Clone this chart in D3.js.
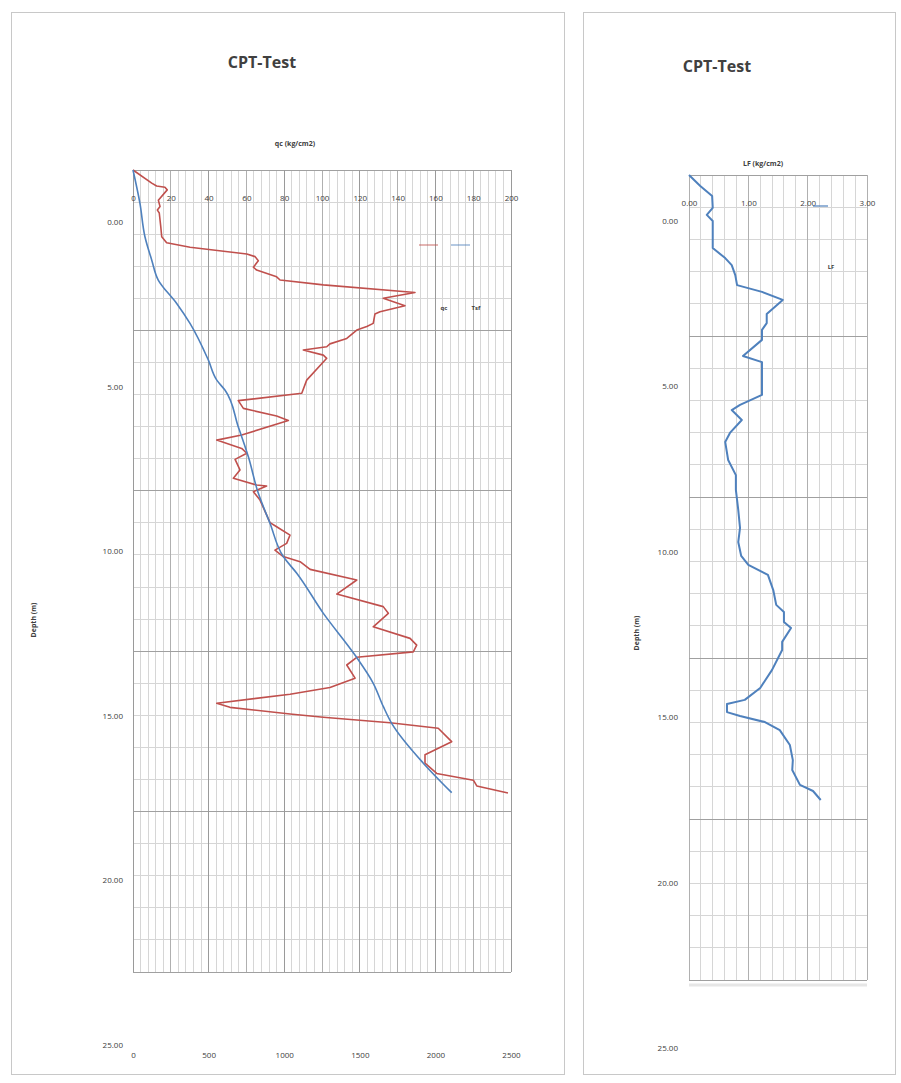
<!DOCTYPE html>
<html>
<head>
<meta charset="utf-8">
<script src="https://cdn.jsdelivr.net/npm/d3@7"></script>
<style>
    body { margin: 0; background: #fff; }
    svg text { font-family: "Open Sans", "Noto Sans", sans-serif; fill: #404040; }
</style>
</head>
<body>
<div id="chart"></div>
<script>
// qc (kg/cm2) against depth (m)
const qcDepth = [0, 0.41, 0.50, 0.54, 0.62, 0.94, 1.14, 1.25, 1.34, 1.77, 2.08, 2.27, 2.41, 2.62, 2.70, 2.83,
    3.03, 3.12, 3.33, 3.43, 3.58, 3.82, 4.00, 4.23, 4.42, 4.49, 4.78, 4.88, 4.99, 5.25, 5.42, 5.51, 5.61,
    5.77, 5.87, 6.55, 6.96, 7.19, 7.43, 7.67, 7.81, 8.26, 8.42, 8.68, 8.83, 9.02, 9.35, 9.61, 9.82, 9.85,
    10.03, 10.29, 10.99, 11.12, 11.38, 11.64, 11.85, 12.05, 12.21, 12.45, 12.78, 13.22, 13.61, 13.82, 14.24,
    14.60, 14.81, 15.02, 15.19, 15.43, 15.84, 16.13, 16.34, 16.62, 16.75, 16.96, 17.06, 17.23, 17.40, 17.82,
    18.23, 18.49, 18.81, 19.02, 19.20, 19.42];
const qcValues = [0, 9.9, 12.5, 16.9, 18.1, 13.4, 14.3, 12.9, 13.9, 14.7, 15.2, 17.8, 30.2, 60.2, 64.6, 66.3,
    63.7, 65.4, 76.0, 77.8, 100.7, 149.2, 132.4, 143.9, 130.7, 128.0, 127.1, 123.7, 118.4, 113.1, 104.2, 102.5, 90.1,
    100.7, 102.5, 91.9, 89.3, 55.7, 58.4, 76.0, 82.2, 57.5, 44.3, 57.5, 60.2, 54.0, 56.6, 53.1, 65.4, 70.7,
    63.7, 67.2, 72.5, 76.0, 83.1, 81.3, 75.1, 79.5, 88.4, 93.7, 118.4, 107.8, 132.4, 135.1, 127.1,
    146.6, 150.1, 148.3, 118.4, 113.1, 117.5, 104.2, 83.1, 44.3, 51.3, 83.1, 100.7, 136.0, 161.5, 168.6,
    154.5, 154.5, 160.7, 180.1, 181.9, 198.4];

// Tsf against depth (m), secondary scale
const tsfDepth = [0, 1.04, 2.08, 2.81, 3.43, 4.16, 4.78, 5.92, 6.55, 6.86, 8.00, 8.94, 10.08, 11.01, 12.05,
    12.57, 13.82, 15.12, 16.00, 16.73, 17.25, 18.49, 19.41];
const tsfValues = [0, 46, 79, 124, 167, 289, 377, 498, 554, 608, 696, 763, 829, 906, 994,
    1083, 1259, 1468, 1589, 1656, 1711, 1920, 2108];

// LF (kg/cm2) against depth (m)
const lfDepth = [0, 0.34, 0.65, 1.02, 1.24, 1.43, 2.27, 2.58, 2.80, 3.11, 3.42, 3.63, 3.88, 4.32, 4.60, 4.81,
    5.12, 5.62, 5.81, 6.83, 7.14, 7.30, 7.61, 8.01, 8.29, 8.85, 9.32, 9.78, 10.40, 10.96, 11.40, 11.83, 12.11,
    12.42, 12.89, 13.35, 13.57, 13.88, 14.07, 14.50, 14.75, 15.37, 15.93, 16.30, 16.43, 16.68, 16.80, 16.99,
    17.24, 17.70, 18.17, 18.48, 18.94, 19.13, 19.41];
const lfValues = [0, 0.19, 0.39, 0.40, 0.30, 0.40, 0.40, 0.61, 0.72, 0.78, 0.81, 1.23, 1.58, 1.31, 1.31, 1.23,
    1.23, 0.91, 1.23, 1.23, 0.86, 0.72, 0.89, 0.69, 0.61, 0.66, 0.79, 0.79, 0.83, 0.86, 0.83, 0.88, 1.00,
    1.33, 1.42, 1.47, 1.60, 1.60, 1.72, 1.57, 1.57, 1.40, 1.20, 0.94, 0.64, 0.64, 0.86, 1.28,
    1.53, 1.70, 1.75, 1.74, 1.87, 2.09, 2.22];

const qcTicks = [0, 20, 40, 60, 80, 100, 120, 140, 160, 180, 200];
const tsfTicks = [0, 500, 1000, 1500, 2000, 2500];
const lfTicks = [0, 1, 2, 3];
const depthTicks = [0, 5, 10, 15, 20, 25];

const svg = d3.select('#chart').append('svg')
    .attr('width', 901)
    .attr('height', 1083)
    .style('display', 'block');

svg.append('rect').attr('width', 901).attr('height', 1083).attr('fill', '#fff');

// draws vertical + horizontal gridlines for one plot area
function drawGrid(g, xs, y, vMinor, vMajor, hMinor, hMajor) {
    const [x0, x1] = xs.range();
    const [y0, y1] = y.range();
    g.selectAll(null).data(vMinor).enter().append('line')
        .attr('x1', d => xs(d)).attr('x2', d => xs(d)).attr('y1', y0).attr('y2', y1)
        .attr('stroke', '#d6d6d6').attr('stroke-width', 1).attr('shape-rendering', 'crispEdges');
    g.selectAll(null).data(hMinor).enter().append('line')
        .attr('x1', x0).attr('x2', x1).attr('y1', d => y(d)).attr('y2', d => y(d))
        .attr('stroke', '#d6d6d6').attr('stroke-width', 1).attr('shape-rendering', 'crispEdges');
    g.selectAll(null).data(vMajor).enter().append('line')
        .attr('x1', d => xs(d)).attr('x2', d => xs(d)).attr('y1', y0).attr('y2', y1)
        .attr('stroke', '#b0b0b0').attr('stroke-width', 1).attr('shape-rendering', 'crispEdges');
    g.selectAll(null).data(hMajor).enter().append('line')
        .attr('x1', x0).attr('x2', x1).attr('y1', d => y(d)).attr('y2', d => y(d))
        .attr('stroke', '#a0a0a0').attr('stroke-width', 1).attr('shape-rendering', 'crispEdges');
}

function styleAxis(g, size) {
    g.select('.domain').remove();
    g.selectAll('.tick line').remove();
    g.selectAll('text').style('font-size', size + 'px').attr('fill', '#404040');
}

// ---------------- left panel ----------------
svg.append('rect')
    .attr('x', 11.5).attr('y', 12.5).attr('width', 553).attr('height', 1062)
    .attr('fill', 'none').attr('stroke', '#c8c8c8');

const xQc = d3.scaleLinear().domain([0, 200]).range([133, 511]);
const xTsf = d3.scaleLinear().domain([0, 2500]).range([133, 511]);
const yDepth = d3.scaleLinear().domain([0, 25]).range([170, 972]);
const yDepthLabel = d3.scaleLinear().domain([0, 25]).range([222, 1045]);

const left = svg.append('g');
drawGrid(left, xQc, yDepth,
    d3.range(0, 201, 4), d3.range(0, 201, 20),
    d3.range(0, 26, 1), d3.range(0, 26, 5));
left.selectAll(null).data(tsfTicks).enter().append('line')
    .attr('x1', d => xTsf(d)).attr('x2', d => xTsf(d)).attr('y1', 170).attr('y2', 972)
    .attr('stroke', '#9a9a9a').attr('shape-rendering', 'crispEdges');

left.append('g')
    .attr('transform', 'translate(0,204)')
    .call(d3.axisTop(xQc).tickValues(qcTicks).tickSize(0))
    .call(g => styleAxis(g, 8));

left.append('g')
    .attr('transform', 'translate(0,1049)')
    .call(d3.axisBottom(xTsf).tickValues(tsfTicks).tickSize(0).tickFormat(d3.format('d')))
    .call(g => styleAxis(g, 8));

left.append('g')
    .attr('transform', 'translate(126,0)')
    .call(d3.axisLeft(yDepthLabel).tickValues(depthTicks).tickSize(0).tickFormat(d3.format('.2f')))
    .call(g => styleAxis(g, 8));

const qcLine = d3.line().x(d => xQc(d[1])).y(d => yDepth(d[0]));
left.append('path')
    .datum(d3.zip(qcDepth, qcValues))
    .attr('d', qcLine)
    .attr('fill', 'none').attr('stroke', '#c0504d').attr('stroke-width', 1.6)
    .attr('stroke-linejoin', 'round');

const tsfLine = d3.line().x(d => xTsf(d[1])).y(d => yDepth(d[0])).curve(d3.curveMonotoneY);
left.append('path')
    .datum(d3.zip(tsfDepth, tsfValues))
    .attr('d', tsfLine)
    .attr('fill', 'none').attr('stroke', '#4f81bd').attr('stroke-width', 1.6);

left.append('text')
    .attr('x', 262).attr('y', 68).attr('text-anchor', 'middle')
    .style('font-size', '16px').style('font-weight', 'bold').attr('fill', '#262626')
    .text('CPT-Test');
left.append('text')
    .attr('x', 295).attr('y', 146).attr('text-anchor', 'middle')
    .style('font-size', '7px').style('font-weight', 'bold')
    .text('qc (kg/cm2)');
left.append('text')
    .attr('transform', 'translate(36,620) rotate(-90)').attr('text-anchor', 'middle')
    .style('font-size', '7px').style('font-weight', 'bold')
    .text('Depth (m)');

// legend
const legendLeft = [
    { name: 'qc', color: '#c0504d', x: 419 },
    { name: 'Tsf', color: '#4f81bd', x: 451 }
];
legendLeft.forEach(d => {
    left.append('line')
        .attr('x1', d.x).attr('x2', d.x + 19).attr('y1', 245).attr('y2', 245)
        .attr('stroke', d.color).attr('stroke-width', 1.2).attr('opacity', 0.7);
    left.append('text')
        .attr('x', d.x + 25).attr('y', 310).attr('text-anchor', 'middle')
        .style('font-size', '6px').style('font-weight', 'bold')
        .text(d.name);
});

// ---------------- right panel ----------------
svg.append('rect')
    .attr('x', 583.5).attr('y', 12.5).attr('width', 312).attr('height', 1062)
    .attr('fill', 'none').attr('stroke', '#c8c8c8');

const xLf = d3.scaleLinear().domain([0, 3]).range([689, 867]);
const yDepthR = d3.scaleLinear().domain([0, 25]).range([175, 980]);
const yDepthRLabel = d3.scaleLinear().domain([0, 25]).range([221, 1048]);

const right = svg.append('g');
drawGrid(right, xLf, yDepthR,
    d3.range(0, 3.01, 0.2), lfTicks,
    d3.range(0, 26, 1), d3.range(0, 26, 5));

right.append('line')
    .attr('x1', 689).attr('x2', 867).attr('y1', 985).attr('y2', 985)
    .attr('stroke', '#e6e6e6').attr('stroke-width', 3);

right.append('g')
    .attr('transform', 'translate(0,209)')
    .call(d3.axisTop(xLf).tickValues(lfTicks).tickSize(0).tickFormat(d3.format('.2f')))
    .call(g => styleAxis(g, 8));

right.append('g')
    .attr('transform', 'translate(681,0)')
    .call(d3.axisLeft(yDepthRLabel).tickValues(depthTicks).tickSize(0).tickFormat(d3.format('.2f')))
    .call(g => styleAxis(g, 8));

const lfLine = d3.line().x(d => xLf(d[1])).y(d => yDepthR(d[0]));
right.append('path')
    .datum(d3.zip(lfDepth, lfValues))
    .attr('d', lfLine)
    .attr('fill', 'none').attr('stroke', '#4f81bd').attr('stroke-width', 2)
    .attr('stroke-linejoin', 'round');

right.append('text')
    .attr('x', 717).attr('y', 72).attr('text-anchor', 'middle')
    .style('font-size', '16px').style('font-weight', 'bold').attr('fill', '#262626')
    .text('CPT-Test');
right.append('text')
    .attr('x', 763).attr('y', 166).attr('text-anchor', 'middle')
    .style('font-size', '7px').style('font-weight', 'bold')
    .text('LF (kg/cm2)');
right.append('text')
    .attr('transform', 'translate(639,633) rotate(-90)').attr('text-anchor', 'middle')
    .style('font-size', '7px').style('font-weight', 'bold')
    .text('Depth (m)');

right.append('line')
    .attr('x1', 813).attr('x2', 828).attr('y1', 206).attr('y2', 206)
    .attr('stroke', '#4f81bd').attr('stroke-width', 1.2);
right.append('text')
    .attr('x', 831).attr('y', 269).attr('text-anchor', 'middle')
    .style('font-size', '6px').style('font-weight', 'bold')
    .text('LF');
</script>
</body>
</html>
